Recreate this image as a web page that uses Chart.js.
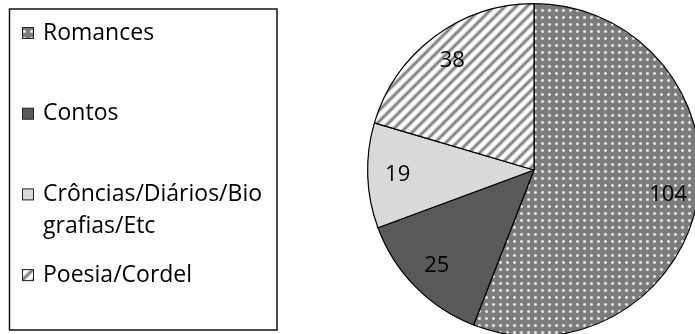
<!DOCTYPE html>
<html>
<head>
<meta charset="utf-8">
<script src="https://cdn.jsdelivr.net/npm/chart.js@4/dist/chart.umd.min.js"></script>
<style>
  html, body { margin: 0; padding: 0; background: #fff; overflow: hidden; }
  #wrap { position: relative; width: 695px; height: 334px; overflow: hidden; }
  #c { position: absolute; left: 0; top: 0; }
</style>
</head>
<body>
<div id="wrap"><canvas id="c" width="720" height="345"></canvas></div>
<script>
// Categories of books and how many of each
const categories = ['Romances', 'Contos', 'Crôncias/Diários/Biografias/Etc', 'Poesia/Cordel'];
const legendLines = [['Romances'], ['Contos'], ['Crôncias/Diários/Bio', 'grafias/Etc'], ['Poesia/Cordel']];
const counts = [104, 25, 19, 38];

const FONT = '"Open Sans", "Liberation Sans", sans-serif';

// Gray background with a grid of soft white dots
function dotPattern() {
  const t = document.createElement('canvas');
  t.width = 7; t.height = 7;
  const g = t.getContext('2d');
  g.fillStyle = '#7b7b7b';
  g.fillRect(0, 0, 7, 7);
  const rg = g.createRadialGradient(3.5, 3.5, 0, 3.5, 3.5, 2.2);
  rg.addColorStop(0, 'rgba(255,255,255,0.95)');
  rg.addColorStop(0.55, 'rgba(240,240,240,0.7)');
  rg.addColorStop(1, 'rgba(200,200,200,0)');
  g.fillStyle = rg;
  g.fillRect(0, 0, 7, 7);
  return g.createPattern(t, 'repeat');
}

// Diagonal white stripes on gray
function stripePattern() {
  const s = 11;
  const t = document.createElement('canvas');
  t.width = s; t.height = s;
  const g = t.getContext('2d');
  g.fillStyle = '#858585';
  g.fillRect(0, 0, s, s);
  g.strokeStyle = '#ffffff';
  [[6, 0.35], [4.5, 0.6], [3, 1]].forEach(([w, a]) => {
    g.lineWidth = w;
    g.globalAlpha = a;
    for (let k = -1; k <= 1; k++) {
      g.beginPath();
      g.moveTo(k * s - 2, s + 2);
      g.lineTo(k * s + s + 2, -2);
      g.stroke();
    }
  });
  g.globalAlpha = 1;
  return g.createPattern(t, 'repeat');
}

const fills = [dotPattern(), '#595959', '#d9d9d9', stripePattern()];

// Framed legend on the left
const boxLegend = {
  id: 'boxLegend',
  afterDraw(chart) {
    const ctx = chart.ctx;
    const ds = chart.data.datasets[0];
    ctx.save();
    ctx.strokeStyle = '#111';
    ctx.lineWidth = 1.5;
    ctx.strokeRect(9.5, 9, 267.5, 321);
    ctx.font = '23px ' + FONT;
    ctx.textBaseline = 'middle';
    ctx.fillStyle = '#000';
    legendLines.forEach((lines, i) => {
      const y = 33 + i * 80.7;
      ctx.fillStyle = ds.backgroundColor[i];
      ctx.fillRect(22.5, y - 5.5, 11, 11);
      ctx.strokeStyle = '#222';
      ctx.lineWidth = 1;
      ctx.strokeRect(22.5, y - 5.5, 11, 11);
      ctx.fillStyle = '#000';
      lines.forEach((ln, j) => ctx.fillText(ln, 43, y + j * 32));
    });
    ctx.restore();
  }
};

// Value written inside each slice
const sliceValues = {
  id: 'sliceValues',
  afterDatasetsDraw(chart) {
    const ctx = chart.ctx;
    const meta = chart.getDatasetMeta(0);
    const vals = chart.data.datasets[0].data;
    ctx.save();
    ctx.font = '22px ' + FONT;
    ctx.fillStyle = '#000';
    ctx.textAlign = 'center';
    ctx.textBaseline = 'middle';
    meta.data.forEach((arc, i) => {
      const p = arc.getProps(['x', 'y', 'startAngle', 'endAngle', 'outerRadius'], true);
      const mid = (p.startAngle + p.endAngle) / 2;
      const r = p.outerRadius * 0.82;
      ctx.fillText(String(vals[i]), p.x + Math.cos(mid) * r, p.y + Math.sin(mid) * r);
    });
    ctx.restore();
  }
};

new Chart(document.getElementById('c'), {
  type: 'pie',
  data: {
    labels: categories,
    datasets: [{
      data: counts,
      backgroundColor: fills,
      borderColor: '#000',
      borderWidth: 1.2
    }]
  },
  options: {
    responsive: false,
    animation: false,
    devicePixelRatio: 1,
    layout: { padding: { left: 367, right: 19, top: 3, bottom: 8 } },
    plugins: { legend: { display: false }, tooltip: { enabled: false } }
  },
  plugins: [sliceValues, boxLegend]
});
</script>
</body>
</html>
